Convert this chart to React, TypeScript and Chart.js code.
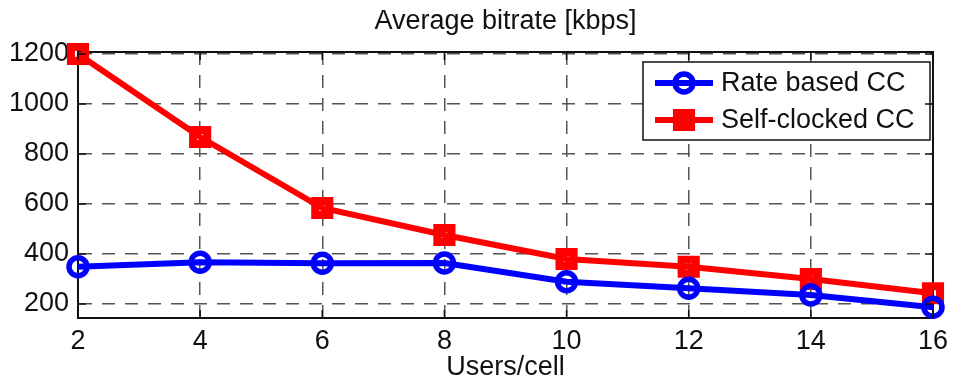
import React, { useEffect, useRef } from "react";
import { Chart, registerables } from "chart.js";

Chart.register(...registerables);

const usersPerCell = [2, 4, 6, 8, 10, 12, 14, 16];
const rateBased = [349, 367, 363, 364, 289, 263, 236, 187];
const selfClocked = [1200, 868, 584, 476, 380, 349, 300, 243];
const seriesLabels = ["Rate based CC", "Self-clocked CC"];
const yTickValues = [200, 400, 600, 800, 1000, 1200];
const titleText = "Average bitrate [kbps]";
const xLabelText = "Users/cell";

const FONT = '"Liberation Sans", Arial, Helvetica, sans-serif';
const FS = 27;
const TXT = "#111";
const BLUE = "#0000ff";
const RED = "#ff0000";

const innerTicks = {
  id: "innerTicks",
  afterDraw(chart: any) {
    const { ctx, chartArea } = chart;
    const xs = chart.scales.x;
    const ys = chart.scales.y;
    const L = 8;
    ctx.save();
    ctx.strokeStyle = "#111";
    ctx.lineWidth = 1.5;
    ctx.beginPath();
    xs.ticks.forEach((t: any) => {
      const px = xs.getPixelForValue(t.value);
      ctx.moveTo(px, chartArea.bottom);
      ctx.lineTo(px, chartArea.bottom - L);
      ctx.moveTo(px, chartArea.top);
      ctx.lineTo(px, chartArea.top + L);
    });
    ys.ticks.forEach((t: any) => {
      const py = ys.getPixelForValue(t.value);
      ctx.moveTo(chartArea.left, py);
      ctx.lineTo(chartArea.left + L, py);
      ctx.moveTo(chartArea.right, py);
      ctx.lineTo(chartArea.right - L, py);
    });
    ctx.stroke();
    ctx.restore();
  },
};

const boxLegend = {
  id: "boxLegend",
  afterDatasetsDraw(chart: any) {
    const { ctx } = chart;
    const x0 = 643, y0 = 62, x1 = 930, y1 = 140;
    ctx.save();
    ctx.fillStyle = "#fff";
    ctx.fillRect(x0, y0, x1 - x0, y1 - y0);
    ctx.strokeStyle = "#111";
    ctx.lineWidth = 1.5;
    ctx.strokeRect(x0, y0, x1 - x0, y1 - y0);
    const rows = [83, 120];
    chart.data.datasets.forEach((ds: any, i: number) => {
      const cy = rows[i];
      ctx.strokeStyle = ds.borderColor;
      ctx.lineWidth = 6;
      ctx.beginPath();
      ctx.moveTo(655, cy);
      ctx.lineTo(713, cy);
      ctx.stroke();
      ctx.lineWidth = ds.pointBorderWidth;
      ctx.beginPath();
      if (ds.pointStyle === "rect") {
        const s = ds.pointRadius * Math.SQRT1_2;
        ctx.rect(684 - s, cy - s, 2 * s, 2 * s);
      } else {
        ctx.arc(684, cy, ds.pointRadius, 0, Math.PI * 2);
      }
      ctx.stroke();
      ctx.fillStyle = TXT;
      ctx.font = `${FS}px ${FONT}`;
      ctx.textBaseline = "middle";
      ctx.textAlign = "left";
      ctx.fillText(ds.label, 721, cy + 1);
    });
    ctx.restore();
  },
};

export default function App() {
  const ref = useRef<HTMLCanvasElement>(null);
  useEffect(() => {
    if (!ref.current) return;
    const chart = new Chart(ref.current, {
      type: "line",
      data: {
        datasets: [
          {
            label: seriesLabels[0],
            data: usersPerCell.map((x, i) => ({ x, y: rateBased[i] })),
            borderColor: BLUE,
            borderWidth: 6,
            pointStyle: "circle",
            pointRadius: 9,
            pointBorderWidth: 5.5,
            pointBorderColor: BLUE,
            pointBackgroundColor: "rgba(0,0,0,0)",
            clip: false,
          } as any,
          {
            label: seriesLabels[1],
            data: usersPerCell.map((x, i) => ({ x, y: selfClocked[i] })),
            borderColor: RED,
            borderWidth: 6,
            pointStyle: "rect",
            pointRadius: 10,
            pointBorderWidth: 8,
            pointBorderColor: RED,
            pointBackgroundColor: "rgba(0,0,0,0)",
            clip: false,
          } as any,
        ],
      },
      options: {
        responsive: false,
        animation: false,
        layout: { padding: 0 },
        plugins: {
          legend: { display: false },
          title: { display: false },
          tooltip: { enabled: false },
        },
        scales: {
          x: {
            type: "linear",
            position: "bottom",
            min: 2,
            max: 16,
            ticks: {
              stepSize: 2,
              color: TXT,
              font: { family: FONT, size: FS },
              padding: 7,
              maxRotation: 0,
            },
            grid: { color: "#555", lineWidth: 1.5, drawTicks: false },
            border: { display: true, color: "#111", width: 2, dash: [13, 10] },
            title: {
              display: true,
              text: xLabelText,
              color: TXT,
              font: { family: FONT, size: FS, lineHeight: 1 },
              padding: 0,
            },
            afterFit(scale: any) {
              scale.height = 63;
            },
          } as any,
          xTop: {
            type: "linear",
            position: "top",
            min: 2,
            max: 16,
            ticks: { display: false },
            grid: { display: false, drawTicks: false },
            border: { display: true, color: "#111", width: 2 },
            title: {
              display: true,
              text: titleText,
              color: TXT,
              font: { family: FONT, size: FS, lineHeight: 1 },
              padding: { top: 8, bottom: 0 },
            },
            afterFit(scale: any) {
              scale.height = 52;
            },
          } as any,
          y: {
            type: "linear",
            position: "left",
            min: 144,
            max: 1208,
            afterBuildTicks(scale: any) {
              scale.ticks = yTickValues.map((v) => ({ value: v }));
            },
            ticks: {
              color: TXT,
              font: { family: FONT, size: FS },
              padding: 9,
              callback: (v: any) => String(v),
            },
            grid: { color: "#555", lineWidth: 1.5, drawTicks: false },
            border: { display: true, color: "#111", width: 2, dash: [13, 10] },
            afterFit(scale: any) {
              scale.width = 78;
            },
          } as any,
          yRight: {
            type: "linear",
            position: "right",
            min: 144,
            max: 1208,
            ticks: { display: false },
            grid: { display: false, drawTicks: false },
            border: { display: true, color: "#111", width: 2 },
            afterFit(scale: any) {
              scale.width = 17;
            },
          } as any,
        },
      },
      plugins: [innerTicks, boxLegend],
    });
    return () => chart.destroy();
  }, []);
  return (
    <div style={{ position: "fixed", left: 0, top: 0, width: 955, height: 381, background: "#fff" }}>
      <canvas ref={ref} width={955} height={381} />
    </div>
  );
}
